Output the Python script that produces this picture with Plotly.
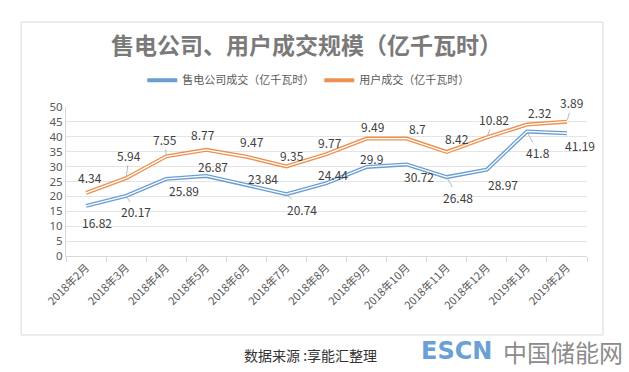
import plotly.graph_objects as go

categories = ["2018年2月", "2018年3月", "2018年4月", "2018年5月", "2018年6月", "2018年7月",
              "2018年8月", "2018年9月", "2018年10月", "2018年11月", "2018年12月",
              "2019年1月", "2019年2月"]
seller_values = [16.82, 20.17, 25.89, 26.87, 23.84, 20.74, 24.44, 29.9, 30.72, 26.48, 28.97, 41.8, 41.19]
user_values = [4.34, 5.94, 7.55, 8.77, 9.47, 9.35, 9.77, 9.49, 8.7, 8.42, 10.82, 2.32, 3.89]
y_ticks = [0, 5, 10, 15, 20, 25, 30, 35, 40, 45, 50]

seller_name = "售电公司成交（亿千瓦时）"
user_name = "用户成交（亿千瓦时）"
title_text = "售电公司、用户成交规模（亿千瓦时）"
source_text = "数据来源 :享能汇整理"

# stacked total for the user series (Excel stacked line)
user_total = [round(s + u, 2) for s, u in zip(seller_values, user_values)]

# label placement (pixel offsets from point) -- styling only
user_off = [(4, -15), (3, -23), (-1, -17), (-3, -15), (6, -15), (6, -11), (3, -12),
            (6, -12), (11, -10), (10, -14), (7, -18), (13, -12), (5, -19)]
seller_off = [(11, 17), (10, 16), (18, 12), (7, -9), (17, -6), (16, 15), (6, -9),
              (5, -8), (12, 12), (11, 20), (16, 15), (11, 21), (13, 12)]
user_leader = {1, 2, 10, 12}
seller_leader = {1, 5, 9, 11}

BLUE = "#6a9ed0"
ORANGE = "#eb9152"
FONT = "Noto Sans CJK SC"

fig = go.Figure()
for name, vals, col in [(seller_name, seller_values, BLUE), (user_name, user_total, ORANGE)]:
    fig.add_trace(go.Scatter(x=categories, y=vals, mode="lines", name=name,
                             line=dict(color=col, width=4), hoverinfo="skip"))
    fig.add_trace(go.Scatter(x=categories, y=vals, mode="lines", showlegend=False,
                             line=dict(color="white", width=1.3), hoverinfo="skip"))

ann = []
def add_labels(vals, texts, offs, leaders):
    for i, (c, v, t) in enumerate(zip(categories, vals, texts)):
        dx, dy = offs[i]
        base = dict(x=c, y=v, xref="x", yref="y", text=str(t),
                    font=dict(family=FONT, size=12, color="#404040"))
        if i in leaders:
            ann.append(dict(base, showarrow=True, ax=dx, ay=dy, arrowhead=0,
                            arrowwidth=0.8, arrowcolor="#a6a6a6", standoff=2))
        else:
            ann.append(dict(base, showarrow=False, xshift=dx, yshift=-dy))

add_labels(user_total, user_values, user_off, user_leader)
add_labels(seller_values, seller_values, seller_off, seller_leader)

ann.append(dict(text="<b>" + title_text + "</b>", xref="paper", yref="paper",
                x=0.462, y=1.423, xanchor="center", yanchor="middle", showarrow=False,
                font=dict(family=FONT, size=23, color="#7a7a7a")))
ann.append(dict(text=source_text, xref="paper", yref="paper", x=0.47, y=-0.664,
                xanchor="center", yanchor="middle",
                showarrow=False, font=dict(family=FONT, size=14, color="#333333")))
ann.append(dict(text="<b>ESCN</b>", xref="paper", yref="paper", x=0.677, y=-0.64,
                xanchor="left", yanchor="middle", showarrow=False,
                font=dict(family="DejaVu Sans, sans-serif", size=24, color="#6aa0d6")))
ann.append(dict(text="中国储能网", xref="paper", yref="paper", x=0.835, y=-0.64,
                xanchor="left", yanchor="middle", showarrow=False,
                font=dict(family=FONT, size=24, color="#8c8c8c")))

fig.update_layout(
    width=629, height=372,
    margin=dict(l=66, r=42, t=107, b=116),
    paper_bgcolor="white", plot_bgcolor="white",
    font=dict(family=FONT, color="#595959"),
    annotations=ann,
    shapes=[dict(type="rect", xref="paper", yref="paper", x0=-0.086, x1=1.0307,
                 y0=-0.530, y1=1.570, line=dict(color="#d9d9d9", width=1))],
    legend=dict(orientation="h", x=0.465, y=1.18, xanchor="center", yanchor="middle",
                font=dict(family=FONT, size=11, color="#595959"), itemwidth=30,
                bgcolor="rgba(0,0,0,0)"),
    xaxis=dict(type="category", range=[-0.5, 12.5], tickson="boundaries",
               ticks="outside", ticklen=5, tickcolor="#d9d9d9", showline=True,
               linecolor="#d9d9d9", showgrid=False, tickangle=-45,
               tickfont=dict(family=FONT, size=11, color="#595959")),
    yaxis=dict(range=[0, 50], tickvals=y_ticks, showgrid=True, gridcolor="#e4e4e4",
               showline=True, linecolor="#d9d9d9", zeroline=False,
               tickfont=dict(family="Noto Sans", size=11.5, color="#595959")),
)

fig.write_html("out.html", config={"displayModeBar": False},
               post_script="document.body.style.margin='0px';")
